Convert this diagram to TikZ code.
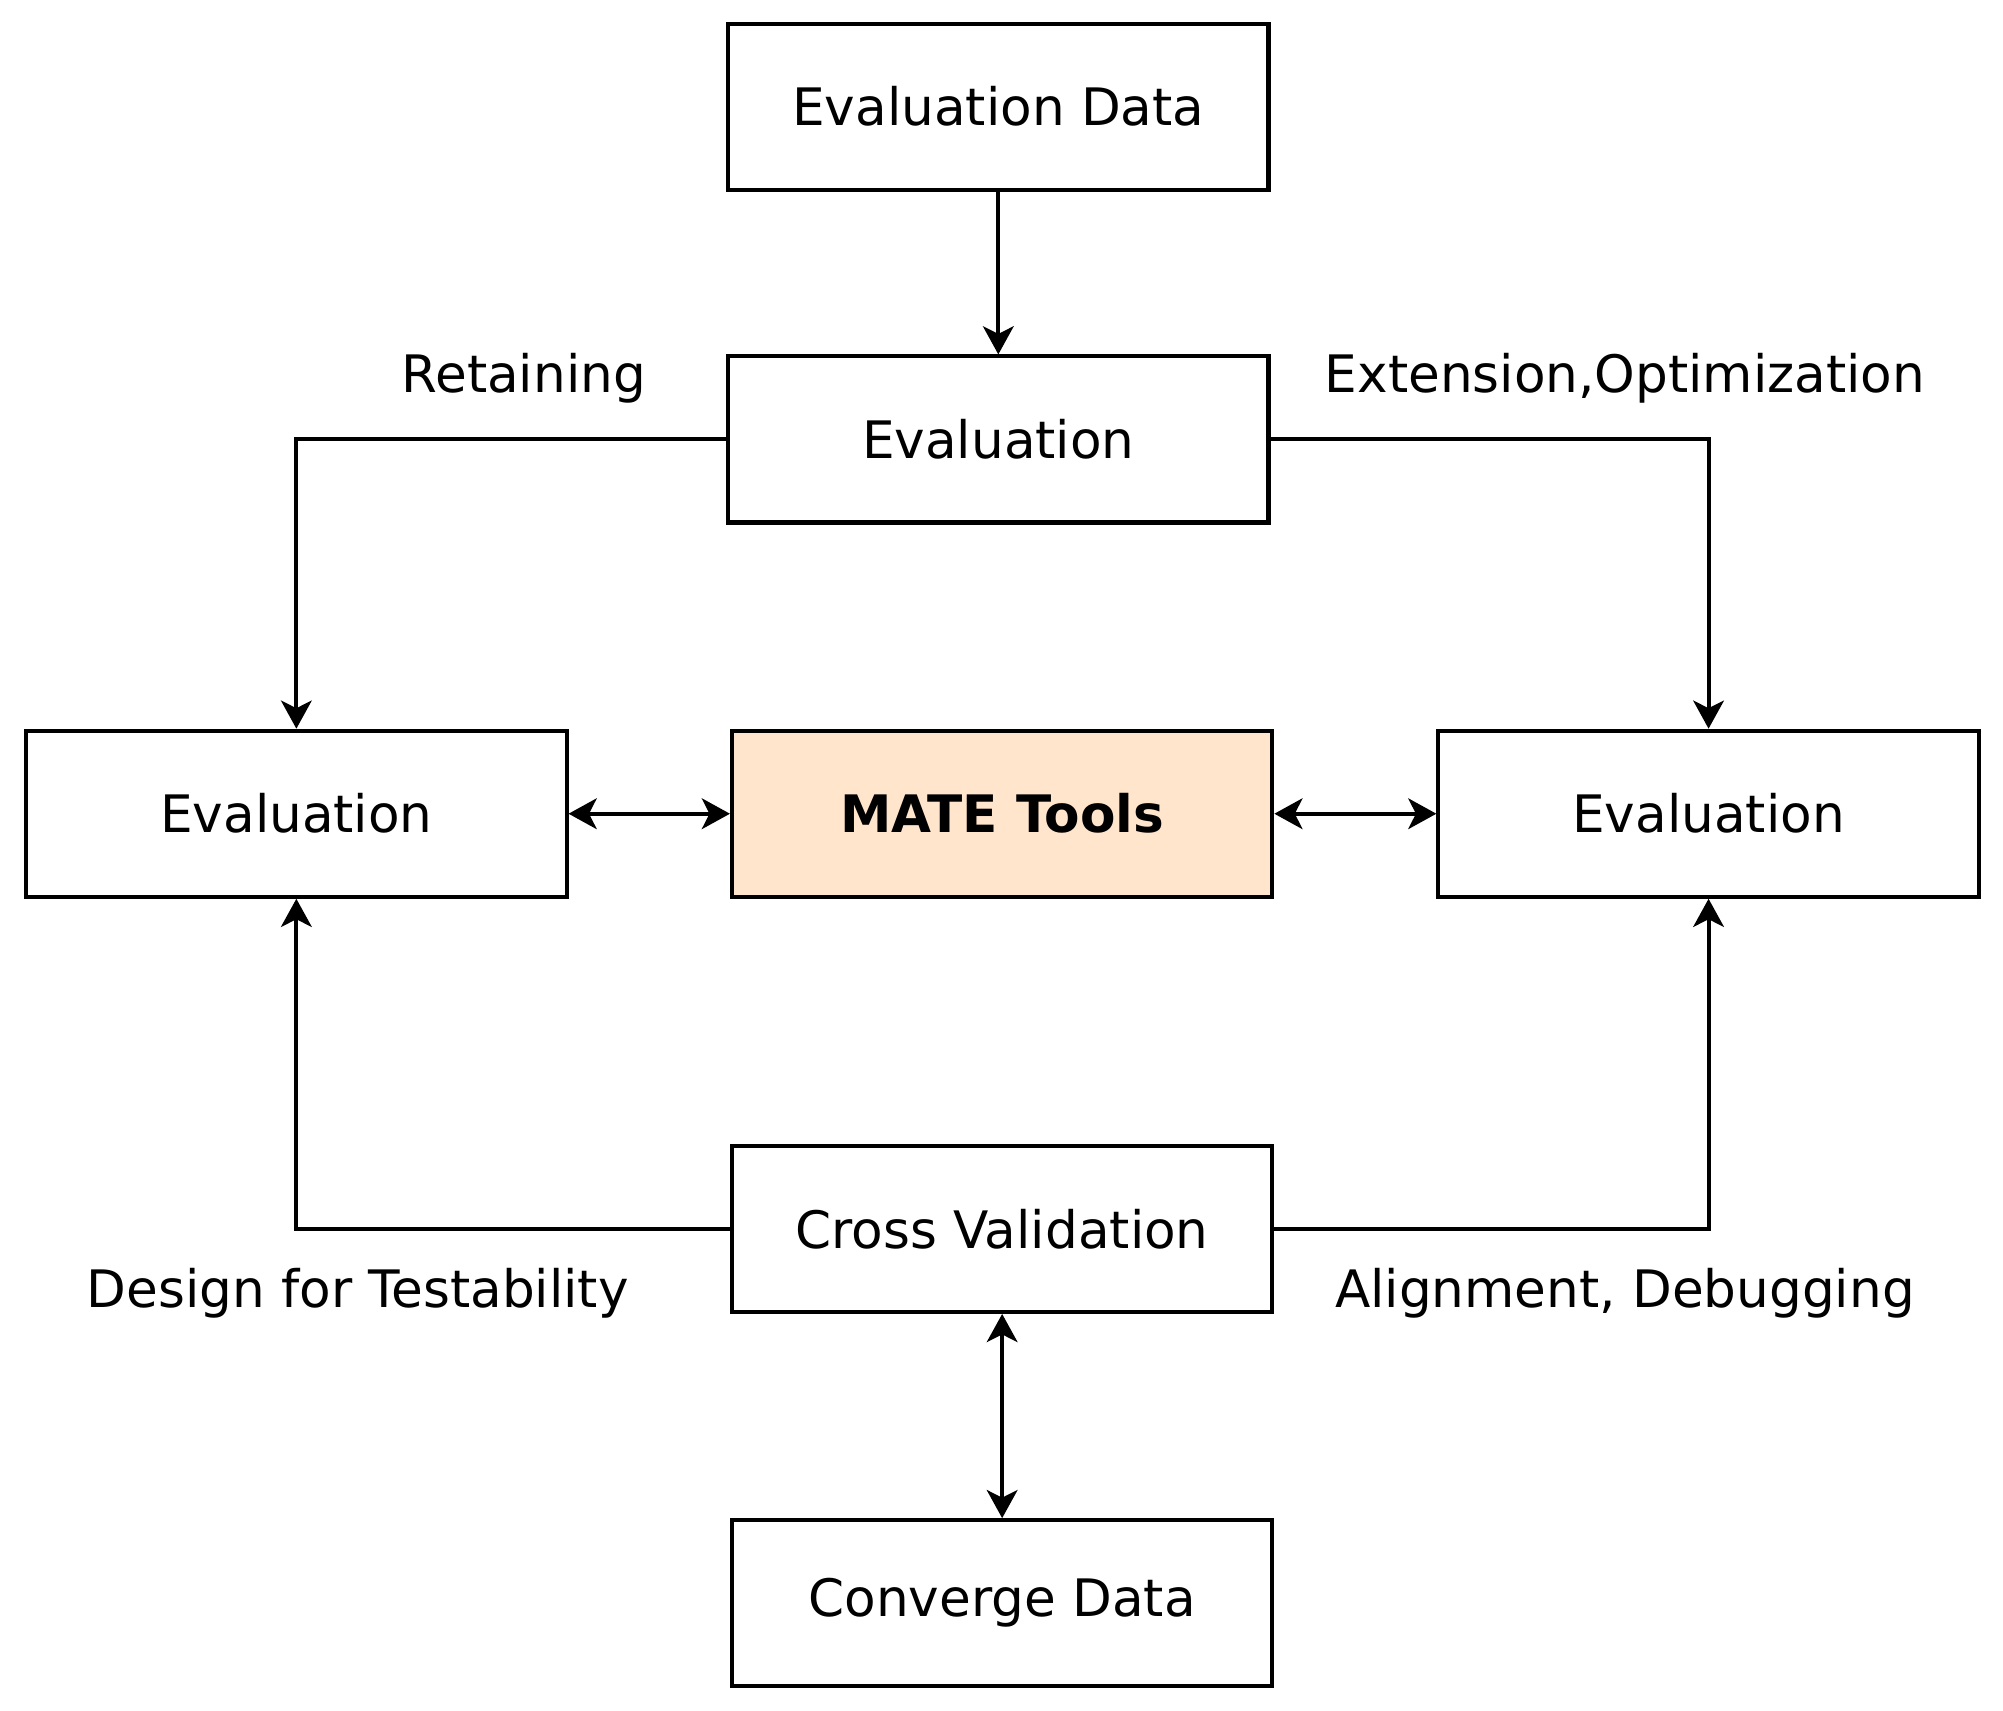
\documentclass[tikz,border=0pt]{standalone}
\usepackage{fontspec}
\setmainfont{DejaVu Sans}
\usetikzlibrary{arrows.meta,positioning}
\tikzset{
  >={Stealth[length=2.2mm,width=2.4mm,inset=0.6mm]},
  box/.style  ={draw, line width=0.9pt, minimum width=4.23cm, minimum height=1.3cm, inner sep=0pt, font=\fontsize{11.5}{14}\selectfont},
  tool/.style ={box, fill=orange!20, font=\fontsize{11.5}{14}\selectfont\bfseries},
  lbl/.style  ={font=\fontsize{11.5}{14}\selectfont},
  link/.style ={line width=0.9pt}
}
\begin{document}
\begin{tikzpicture}
\useasboundingbox (0,0) rectangle (15.68,-13.39);
\node[box]  (data)  at (7.815,-0.835) {Evaluation Data};
\node[box]  (evtop) at (7.815,-3.44)  {Evaluation};
\node[box]  (evl)   at (2.32,-6.37)   {Evaluation};
\node[tool] (mate)  at (7.845,-6.37)  {MATE Tools};
\node[box]  (evr)   at (13.375,-6.37) {Evaluation};
\node[box]  (cross) at (7.845,-9.62)  {Cross Validation};
\node[box]  (conv)  at (7.845,-12.55) {Converge Data};
% labels
\node[lbl] (retain) at (4.10,-2.96)  {Retaining};
\node[lbl] (extopt) at (12.72,-2.96) {Extension,Optimization};
\node[lbl] (dft)    at (2.80,-10.12) {Design for Testability};
\node[lbl] (aldbg)  at (12.72,-10.12){Alignment, Debugging};
% connectors
\draw[link,->] (data) -- (evtop);
\draw[link,->] (evtop.west) -| (evl.north);
\draw[link,->] (evtop.east) -| (evr.north);
\draw[link,<->] (evl) -- (mate);
\draw[link,<->] (mate) -- (evr);
\draw[link,->] (cross.west) -| (evl.south);
\draw[link,->] (cross.east) -| (evr.south);
\draw[link,<->] (cross) -- (conv);
\end{tikzpicture}
\end{document}
